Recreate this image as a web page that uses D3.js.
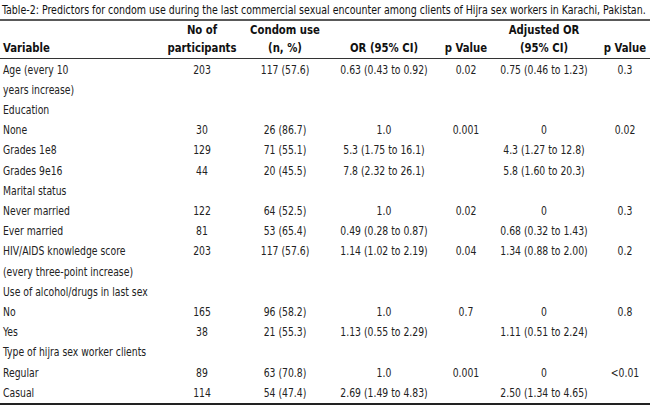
<!DOCTYPE html>
<html><head><meta charset="utf-8">
<script src="https://cdn.jsdelivr.net/npm/d3@7/dist/d3.min.js"></script>
<style>
html,body{margin:0;padding:0;background:#fff;}
svg text{font-family:"DejaVu Sans Condensed","Liberation Sans Narrow",sans-serif;}
</style></head>
<body><svg id="c" width="650" height="411"></svg>
<script>
const title = "Table-2: Predictors for condom use during the last commercial sexual encounter among clients of Hijra sex workers in Karachi, Pakistan.";
const headerTop = ["", "No of", "Condom use", "", "", "Adjusted OR", ""];
const headerBottom = ["Variable", "participants", "(n, %)", "OR (95% CI)", "p Value", "(95% CI)", "p Value"];
const variables = ["Age (every 10", "years increase)", "Education", "None", "Grades 1e8", "Grades 9e16", "Marital status", "Never married", "Ever married", "HIV/AIDS knowledge score", "(every three-point increase)", "Use of alcohol/drugs in last sex", "No", "Yes", "Type of hijra sex worker clients", "Regular", "Casual"];
const participants = ["203", "", "", "30", "129", "44", "", "122", "81", "203", "", "", "165", "38", "", "89", "114"];
const condomUse = ["117 (57.6)", "", "", "26 (86.7)", "71 (55.1)", "20 (45.5)", "", "64 (52.5)", "53 (65.4)", "117 (57.6)", "", "", "96 (58.2)", "21 (55.3)", "", "63 (70.8)", "54 (47.4)"];
const oddsRatio = ["0.63 (0.43 to 0.92)", "", "", "1.0", "5.3 (1.75 to 16.1)", "7.8 (2.32 to 26.1)", "", "1.0", "0.49 (0.28 to 0.87)", "1.14 (1.02 to 2.19)", "", "", "1.0", "1.13 (0.55 to 2.29)", "", "1.0", "2.69 (1.49 to 4.83)"];
const pValue = ["0.02", "", "", "0.001", "", "", "", "0.02", "", "0.04", "", "", "0.7", "", "", "0.001", ""];
const adjustedOR = ["0.75 (0.46 to 1.23)", "", "", "0", "4.3 (1.27 to 12.8)", "5.8 (1.60 to 20.3)", "", "0", "0.68 (0.32 to 1.43)", "1.34 (0.88 to 2.00)", "", "", "0", "1.11 (0.51 to 2.24)", "", "0", "2.50 (1.34 to 4.65)"];
const adjustedP = ["0.3", "", "", "0.02", "", "", "", "0.3", "", "0.2", "", "", "0.8", "", "", "<0.01", ""];

const columns = [variables, participants, condomUse, oddsRatio, pValue, adjustedOR, adjustedP];
const colIdx = d3.range(columns.length);
const colCenters = [3, 202, 285, 384, 466, 544, 625];
const xCol = d3.scaleOrdinal().domain(colIdx).range(colCenters);

const svg = d3.select("#c");
const W = 650;

const t = svg.append("text").attr("font-size", 11.5).attr("fill", "#111").text(title);
const tl = t.node().getComputedTextLength();
t.attr("transform", `translate(2,13.5) scale(${644 / tl},1)`);

const yTopLine = 20, yHeadLine = 58.5, yBottom = 404;
const y = d3.scaleBand().domain(d3.range(variables.length)).range([yHeadLine + 1, yBottom - 1]).paddingInner(0);

svg.append("line").attr("x1", 0).attr("x2", W).attr("y1", yTopLine).attr("y2", yTopLine).attr("stroke", "#222").attr("stroke-width", 1.4);
svg.append("line").attr("x1", 0).attr("x2", W).attr("y1", yHeadLine).attr("y2", yHeadLine).attr("stroke", "#333").attr("stroke-width", 1);
svg.append("line").attr("x1", 0).attr("x2", W).attr("y1", yBottom).attr("y2", yBottom).attr("stroke", "#222").attr("stroke-width", 2);

const SX_HEAD = 0.9, SX_BODY = 0.86;

// header
const hg = svg.append("g").attr("font-weight", "bold").attr("font-size", 12.5).attr("fill", "#111");
colIdx.forEach(i => {
  const anchor = i === 0 ? "start" : "middle";
  const x = xCol(i);
  if (headerTop[i]) hg.append("text").attr("transform", `translate(${x},34) scale(${SX_HEAD},1)`).attr("text-anchor", anchor).text(headerTop[i]);
  hg.append("text").attr("transform", `translate(${x},52) scale(${SX_HEAD},1)`).attr("text-anchor", anchor).text(headerBottom[i]);
});

// body
const bg = svg.append("g").attr("font-size", 12).attr("fill", "#222");
colIdx.forEach(i => {
  bg.selectAll(null).data(columns[i].map((v, r) => ({v, r})).filter(d => d.v !== ""))
    .join("text")
    .attr("transform", d => `translate(${xCol(i)},${y(d.r) + y.bandwidth() / 2 + 4}) scale(${SX_BODY},1)`)
    .attr("text-anchor", i === 0 ? "start" : "middle")
    .text(d => d.v);
});
</script></body></html>
